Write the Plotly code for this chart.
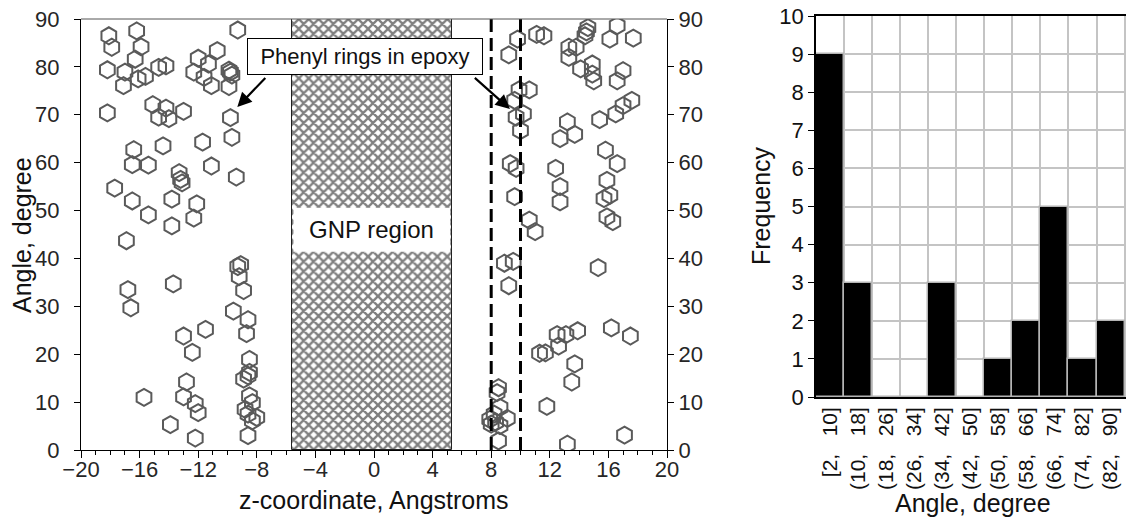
import plotly.graph_objects as go

# ---------------- data ----------------
z_coord = [
    -18.1, -17.9, -16.2, -15.9, -16.3, -18.2, -17.0, -17.1, -16.1, -15.6, -14.7, -14.2,
    -9.3, -10.7, -12.0, -11.3, -12.3, -11.6, -11.1, -9.9, -9.8, -9.7, -9.9,
    -18.2, -15.1, -14.2, -13.0, -14.7, -14.0, -9.8, -9.7, -11.7, -14.4, -16.4,
    -16.5, -15.4, -11.1, -9.4, -13.3, -13.2, -13.1, -17.7, -16.5, -15.4, -13.8,
    -12.1, -12.3, -13.8,
    -16.9, -9.1, -9.3, -9.2, -8.9, -16.8, -13.7, -16.6, -9.6, -8.6, -8.7, -11.5,
    -13.0, -12.4, -8.5, -8.5, -8.6, -8.9, -12.8, -15.7, -13.0, -12.2, -12.0,
    -8.5, -8.3, -8.8, -8.6, -8.0, -8.3, -8.6, -13.9, -12.2,
    9.8, 9.2, 11.1, 11.6, 14.6, 14.4, 14.5, 16.6, 16.1, 17.7, 13.3, 13.8, 13.3,
    14.1, 14.9, 14.9, 15.0, 17.0, 16.6, 9.9, 10.6, 9.6, 10.2, 9.7, 10.0, 17.6,
    17.0, 16.5, 15.4, 13.2, 13.7, 12.7, 15.8, 16.6, 9.3, 9.7, 12.4, 12.7, 12.7,
    15.9, 15.7, 16.1, 9.6, 15.9, 16.3, 10.6, 11.0,
    8.9, 9.5, 9.2, 15.3, 11.3, 11.7, 12.5, 13.1, 13.9, 12.6, 16.2, 17.5, 13.7,
    13.5, 11.8, 17.1, 13.2, 8.5, 8.4, 8.6, 7.9, 8.3, 9.1, 8.6, 8.0, 8.5, 8.2,
]
angle = [
    86.5, 84.1, 87.5, 84.2, 81.6, 79.4, 78.9, 76.1, 77.5, 78.0, 79.9, 80.2,
    87.7, 83.4, 81.8, 80.6, 78.9, 77.8, 76.1, 75.9, 78.9, 78.3, 79.3,
    70.4, 72.1, 71.4, 70.7, 69.5, 69.2, 69.4, 65.3, 64.3, 63.5, 62.7,
    59.6, 59.5, 59.3, 57.0, 57.9, 56.5, 55.8, 54.7, 52.0, 49.1, 52.4,
    51.4, 48.4, 46.8,
    43.7, 38.7, 38.3, 36.2, 33.3, 33.5, 34.7, 29.7, 29.0, 27.2, 24.3, 25.2,
    23.8, 20.4, 18.9, 16.2, 15.5, 14.8, 14.2, 11.0, 11.1, 9.7, 7.8,
    11.3, 9.9, 8.5, 7.5, 6.8, 6.1, 3.0, 5.3, 2.5,
    85.8, 82.5, 86.8, 86.5, 88.2, 86.5, 87.3, 88.6, 85.8, 86.0, 84.1, 84.1, 82.0,
    79.6, 80.6, 78.5, 77.1, 79.2, 77.1, 75.2, 75.2, 73.0, 70.2, 69.5, 66.7, 73.0,
    71.9, 70.2, 69.0, 68.5, 65.9, 65.0, 62.6, 59.8, 59.8, 58.8, 58.8, 55.0, 51.8,
    56.3, 52.5, 53.2, 52.9, 48.7, 47.7, 48.0, 45.6,
    39.0, 39.4, 34.3, 38.1, 20.2, 20.3, 24.1, 24.1, 24.9, 21.7, 25.5, 23.8, 18.0,
    14.2, 9.1, 3.1, 1.2, 13.0, 12.0, 8.9, 6.4, 5.8, 6.6, 5.1, 5.4, 1.9, 7.5,
]

gnp_region = [-5.6, 5.3]          # z-range of the graphene platelet
interface_lines = [8.0, 10.0]     # dashed boundaries
angle_max = 90

hist_labels = ["[2,\u00a0\u00a0\u00a010]", "(10,\u00a0\u00a0\u00a018]", "(18,\u00a0\u00a0\u00a026]",
               "(26,\u00a0\u00a0\u00a034]", "(34,\u00a0\u00a0\u00a042]", "(42,\u00a0\u00a0\u00a050]",
               "(50,\u00a0\u00a0\u00a058]", "(58,\u00a0\u00a0\u00a066]", "(66,\u00a0\u00a0\u00a074]",
               "(74,\u00a0\u00a0\u00a082]", "(82,\u00a0\u00a0\u00a090]"]
hist_counts = [9, 3, 0, 0, 3, 0, 1, 2, 5, 1, 2]

# ---------------- figure ----------------
W, H = 1126, 531
FONT = "Arial, Liberation Sans, sans-serif"
TICK_FONT = dict(family=FONT, size=22, color="#262626")

def px_x(p):
    return p / W

def px_y(p):
    return (H - p) / H

fig = go.Figure()

# GNP region (hatched)
fig.add_trace(go.Bar(
    x=[(gnp_region[0] + gnp_region[1]) / 2], y=[angle_max], base=0,
    width=[gnp_region[1] - gnp_region[0]],
    marker=dict(color="white", line=dict(color="#222", width=1),
                pattern=dict(shape="x", size=7, solidity=0.55, fgcolor="black", bgcolor="white",
                             fillmode="overlay")),
    xaxis="x", yaxis="y", showlegend=False, hoverinfo="skip"))

# scatter of phenyl rings
fig.add_trace(go.Scatter(
    x=z_coord, y=angle, mode="markers",
    marker=dict(symbol="hexagon-open", size=17, color="#5a5a5a", line=dict(width=2, color="#5a5a5a")),
    xaxis="x", yaxis="y", showlegend=False))

# dashed interface lines
for v in interface_lines:
    fig.add_trace(go.Scatter(x=[v, v], y=[0, angle_max], mode="lines",
                             line=dict(color="black", width=3, dash="13px,6px"),
                             xaxis="x", yaxis="y", showlegend=False, hoverinfo="skip"))

# dummy trace for the right-hand y axis
fig.add_trace(go.Scatter(x=[None], y=[None], xaxis="x", yaxis="y2", showlegend=False))

# histogram
fig.add_trace(go.Bar(
    x=list(range(len(hist_labels))), y=hist_counts, width=1,
    marker=dict(color="black", line=dict(color="#b4b4b4", width=1.5)),
    xaxis="x3", yaxis="y3", showlegend=False))

left_dom_x = [px_x(81), px_x(667)]
left_dom_y = [px_y(450), px_y(19)]
right_dom_x = [px_x(816), 1.0]
right_dom_y = [px_y(397), px_y(16)]

fig.update_layout(
    width=W, height=H, margin=dict(l=0, r=0, t=0, b=0, autoexpand=False),
    paper_bgcolor="white", plot_bgcolor="white",
    font=dict(family=FONT, color="#111"),
    bargap=0,
    xaxis=dict(domain=left_dom_x, range=[-20, 20], tickmode="linear", tick0=-20, dtick=4,
               ticks="outside", ticklen=7, tickcolor="black", tickwidth=1, ticklabelstandoff=-7,
               minor=dict(dtick=1, tick0=-20, ticks="outside", ticklen=4, tickcolor="black"),
               showline=True, linecolor="black", linewidth=1, showgrid=False, zeroline=False,
               tickfont=TICK_FONT, anchor="y", automargin=False),
    yaxis=dict(domain=left_dom_y, range=[0, 90], tickmode="linear", tick0=0, dtick=10,
               ticks="outside", ticklen=6, tickcolor="black", ticklabelstandoff=10,
               showline=True, linecolor="black", linewidth=1, showgrid=False, zeroline=False,
               tickfont=TICK_FONT, anchor="x", automargin=False),
    yaxis2=dict(overlaying="y", side="right", range=[0, 90], tickmode="linear", tick0=0, dtick=10,
                ticks="outside", ticklen=6, tickcolor="black",
                showline=True, linecolor="black", linewidth=1, showgrid=False, zeroline=False,
                tickfont=TICK_FONT, anchor="x", automargin=False),
    xaxis3=dict(domain=right_dom_x, range=[-0.5, 10.55], tickmode="array",
                tickvals=list(range(len(hist_labels))), ticktext=hist_labels, tickangle=-90,
                ticks="", showgrid=False, zeroline=False, automargin=False,
                minor=dict(tickmode="array", tickvals=[i - 0.5 for i in range(len(hist_labels) + 1)],
                           showgrid=True, gridcolor="#c4c4c4", gridwidth=1.5, ticks=""),
                showline=True, linecolor="black", linewidth=1.5, mirror=True,
                tickfont=dict(family=FONT, size=21, color="#111"), anchor="y3"),
    yaxis3=dict(domain=right_dom_y, range=[0, 10], tickmode="linear", tick0=0, dtick=1,
                ticks="outside", ticklen=6, tickcolor="black", automargin=False,
                showgrid=True, gridcolor="#c4c4c4", gridwidth=1.5, zeroline=False,
                showline=True, linecolor="black", linewidth=1.5,
                tickfont=dict(family=FONT, size=22, color="#111"), anchor="x3"),
)

# top frame line of left panel
fig.add_shape(type="line", xref="x domain", yref="y domain", x0=0, x1=1, y0=1, y1=1,
              line=dict(color="#555", width=1))

# GNP label box
fig.add_shape(type="rect", xref="x", yref="y", x0=gnp_region[0] + 0.1, x1=gnp_region[1] - 0.1,
              y0=41.4, y1=50.6, fillcolor="white", line=dict(width=0), layer="above")
fig.add_annotation(x=(gnp_region[0] + gnp_region[1]) / 2, y=46.0, xref="x", yref="y",
                   text="GNP region", showarrow=False, xanchor="center", yanchor="middle",
                   font=dict(family=FONT, size=24, color="#111"))

# Phenyl rings label + arrows
fig.add_annotation(x=-0.6, y=82.1, xref="x", yref="y", text="Phenyl rings in epoxy",
                   showarrow=False, bgcolor="white", bordercolor="black", borderwidth=1,
                   borderpad=3, width=228, height=29, xanchor="center", yanchor="middle",
                   font=dict(family=FONT, size=22, color="#111"))
for tip, tail in [((-9.33, 71.6), (-7.32, 78.0)), ((9.28, 71.2), (6.78, 78.0))]:
    fig.add_annotation(x=tip[0], y=tip[1], ax=tail[0], ay=tail[1], xref="x", yref="y",
                       axref="x", ayref="y", text="", showarrow=True,
                       arrowhead=2, arrowsize=1.3, arrowwidth=2.2, arrowcolor="black")

# axis titles
title_font = dict(family=FONT, size=25, color="#111")
common = dict(xref="paper", yref="paper", showarrow=False, xanchor="center", yanchor="middle",
              font=title_font)
fig.add_annotation(x=px_x(22), y=px_y(235), text="Angle, degree", textangle=-90, **common)
fig.add_annotation(x=px_x(374), y=px_y(500), text="z-coordinate, Angstroms", **common)
fig.add_annotation(x=px_x(761), y=px_y(206), text="Frequency", textangle=-90, **common)
fig.add_annotation(x=px_x(973), y=px_y(503), text="Angle, degree", **common)

fig.write_html("out.html")
